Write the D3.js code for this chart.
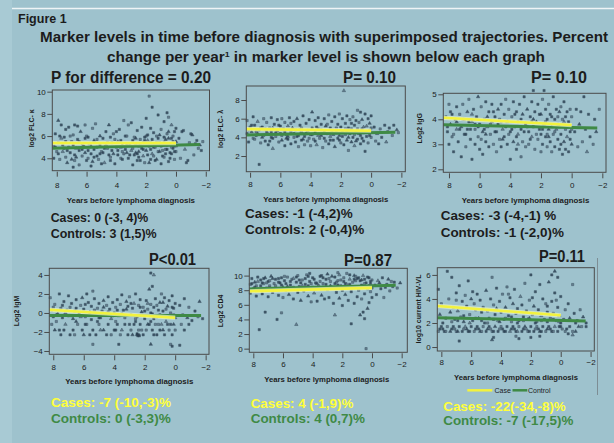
<!DOCTYPE html>
<html>
<head>
<meta charset="utf-8">
<script src="https://cdn.jsdelivr.net/npm/d3@7"></script>
<style>
  body { margin: 0; background: #9ec2cd; }
  svg { display: block; font-family: "Liberation Sans", Arial, sans-serif; }
</style>
</head>
<body>
<script>
// ---- data ----
const xTicks = [8, 6, 4, 2, 0, -2];

const pTitles = ["P for difference = 0.20", "P= 0.10", "P= 0.10", "P<0.01", "P=0.87", "P=0.11"];
const yLabels = ["log2 FLC- \u03ba", "log2 FLC- \u03bb", "Log2 IgG", "Log2 IgM", "Log2 CD4", "log10 current HIV-VL"];
const casesText = ["Cases: 0 (-3, 4)%", "Cases: -1 (-4,2)%", "Cases: -3 (-4,-1) %", "Cases: -7 (-10,-3)%", "Cases: 4 (-1,9)%", "Cases: -22(-34,-8)%"];
const controlsText = ["Controls: 3 (1,5)%", "Controls: 2 (-0,4)%", "Controls: -1 (-2,0)%", "Controls: 0 (-3,3)%", "Controls: 4 (0,7)%", "Controls: -7 (-17,5)%"];

const kappaTicks = [4, 6, 8, 10];
const lambdaTicks = [2, 4, 6, 8];
const iggTicks = [2, 3, 4, 5];
const igmTicks = [-4, -2, 0, 2, 4];
const cd4Ticks = [0, 2, 4, 6, 8, 10];
const vlTicks = [0, 2, 4, 6];

const kappaCase = [[8.3, 5.37], [0, 5.37]];
const kappaCtrl = [[8.3, 4.9], [-1.6, 5.25]];
const lambdaCase = [[8.25, 4.89], [0, 4.71]];
const lambdaCtrl = [[8.25, 4.25], [-1.6, 4.54]];
const iggCase = [[8.37, 4.06], [0, 3.77]];
const iggCtrl = [[8.37, 3.78], [-1.67, 3.65]];
const igmCase = [[8.26, 0.33], [0, -0.5]];
const igmCtrl = [[8.26, -0.27], [-1.7, -0.27]];
const cd4Case = [[8.27, 7.86], [0, 8.32]];
const cd4Ctrl = [[8.27, 8.18], [-1.6, 8.68]];
const vlCase = [[8.27, 3.42], [0, 2.64]];
const vlCtrl = [[8.27, 2.44], [-1.67, 2.17]];

const kappaPts = [[8.2,5.1],[8.2,4.0],[8.1,6.2],[8.0,4.6],[7.9,7.4],[7.9,5.4],[7.8,3.9],[7.8,6.0],[7.7,7.0],[7.6,4.6],[7.6,5.2],[7.5,5.9],[7.4,4.1],[7.4,6.6],[7.3,3.6],[7.2,5.0],[7.2,6.8],[7.1,4.5],[7.0,5.5],[7.0,3.9],
[6.9,3.2],[6.9,6.1],[6.8,7.0],[6.8,4.3],[6.7,4.9],[6.6,5.7],[6.6,6.9],[6.5,3.4],[6.5,4.7],[6.4,6.4],[6.3,4.2],[6.3,5.3],[6.2,5.1],[6.1,7.0],[6.1,4.5],[6.0,3.8],[6.0,6.0],
[5.9,4.7],[5.9,5.9],[5.8,5.3],[5.7,3.3],[5.7,4.4],[5.6,6.7],[5.5,4.1],[5.5,5.6],[5.4,7.1],[5.3,5.0],[5.3,4.2],[5.2,3.9],[5.1,6.0],[5.1,5.2],[5.0,4.6],[5.0,3.5],
[4.9,5.8],[4.8,3.6],[4.8,4.9],[4.7,6.4],[4.6,4.9],[4.6,5.4],[4.5,7.0],[4.4,4.1],[4.4,5.9],[4.3,5.4],[4.2,6.2],[4.2,4.4],[4.1,3.5],[4.0,5.0],[4.0,6.4],
[3.9,4.3],[3.9,5.5],[3.8,6.6],[3.7,5.6],[3.7,4.0],[3.6,3.9],[3.6,5.2],[3.5,7.4],[3.4,4.8],[3.4,6.0],[3.3,6.0],[3.3,4.5],[3.2,4.0],[3.2,7.0],[3.1,5.3],[3.0,7.2],[3.0,4.7],
[2.9,3.4],[2.9,5.6],[2.8,5.9],[2.8,4.3],[2.7,4.5],[2.7,5.2],[2.6,6.5],[2.6,3.8],[2.5,5.1],[2.5,4.6],[2.4,3.8],[2.4,5.7],[2.3,6.8],[2.3,4.9],[2.2,4.2],[2.2,5.4],[2.1,5.6],[2.1,3.6],[2.0,7.6],[2.0,4.7],[2.0,6.0],
[1.9,6.1],[1.9,4.3],[1.8,9.6],[1.8,3.6],[1.8,5.1],[1.7,5.4],[1.7,6.7],[1.6,8.6],[1.6,4.4],[1.5,6.3],[1.5,5.0],[1.4,5.0],[1.4,3.8],[1.3,3.9],[1.3,6.0],[1.2,7.9],[1.2,5.8],[1.2,4.6],[1.1,4.6],[1.1,5.4],[1.0,6.6],[1.0,3.5],[1.0,5.1],
[0.9,5.2],[0.9,4.2],[0.8,7.3],[0.8,4.1],[0.8,5.9],[0.7,5.7],[0.7,4.8],[0.6,8.1],[0.6,4.8],[0.6,6.2],[0.5,6.4],[0.5,3.7],[0.5,7.7],[0.4,5.3],[0.4,4.5],[0.3,7.0],[0.3,4.4],[0.3,5.8],[0.2,6.0],[0.2,4.9],[0.1,5.1],[0.1,3.9],[0.1,6.4],[0.0,6.7],[0.0,4.6],[0.0,5.5],
[-0.2,5.8],[-0.3,4.0],[-0.4,6.4],[-0.5,6.5],[-0.6,4.8],[-0.7,3.6],[-0.8,3.8],[-0.9,5.4],[-1.0,6.2],[-1.1,6.1],[-1.2,4.3],[-1.3,5.3],[-1.4,5.6],[-1.5,4.9],[-1.6,5.2],[-1.7,4.7],[-1.8,5.5],
[8.1,5.0],[7.9,4.4],[7.7,5.8],[7.5,4.9],[7.3,4.7],[7.1,6.0],[6.9,5.2],[6.7,4.1],[6.5,5.5],[6.3,4.8],[6.1,5.8],[5.9,4.0],[5.7,5.1],[5.5,4.8],[5.3,5.7],[5.1,4.4],[4.9,4.5],[4.7,5.2],[4.5,4.3],[4.3,4.7],
[4.1,5.7],[3.9,4.7],[3.7,5.0],[3.5,4.4],[3.3,5.3],[3.1,4.3],[2.9,4.9],[2.7,5.8],[2.5,4.1],[2.4,5.3],[2.2,4.8],[2.1,5.9],[1.9,5.6],[1.7,4.8],[1.6,5.7],[1.5,4.2],[1.3,5.4],[1.1,6.1],[0.9,4.7],[0.8,5.4],
[0.7,4.4],[0.6,5.2],[0.5,5.8],[0.4,4.0],[0.3,5.0],[0.2,5.5],[0.1,4.6],[0.0,5.1],[1.7,3.9],[2.6,4.4],[3.6,4.6],[4.4,3.8],[5.6,3.7],[6.8,3.8],[7.4,5.5]];

const lambdaPts = [[8.2,5.8],[8.2,4.4],[8.1,3.5],[8.0,5.1],[7.9,4.6],[7.8,6.2],[7.8,3.9],[7.7,5.3],[7.6,4.2],[7.5,5.7],[7.4,1.1],[7.4,4.8],[7.3,3.4],[7.2,5.1],[7.2,4.0],[7.1,6.0],[7.0,3.6],[7.0,4.9],
[6.9,5.6],[6.8,4.3],[6.8,3.2],[6.7,5.0],[6.6,6.1],[6.6,4.6],[6.5,2.8],[6.5,3.9],[6.4,5.4],[6.3,4.1],[6.2,5.9],[6.2,4.7],[6.1,3.5],[6.0,5.2],[6.0,4.4],
[5.9,6.0],[5.9,3.7],[5.8,4.9],[5.7,5.6],[5.7,3.1],[5.6,4.3],[5.5,5.2],[5.5,3.8],[5.4,6.1],[5.3,4.6],[5.3,3.3],[5.2,5.0],[5.1,4.0],[5.1,5.7],[5.0,3.5],[5.0,4.8],
[4.9,6.0],[4.8,4.2],[4.8,3.0],[4.7,5.3],[4.6,3.7],[4.6,4.6],[4.5,6.3],[4.4,4.1],[4.4,3.2],[4.3,5.5],[4.2,4.7],[4.2,3.6],[4.1,5.9],[4.0,4.3],[4.0,3.1],
[3.9,6.7],[3.9,5.0],[3.8,3.8],[3.7,4.5],[3.7,5.8],[3.6,3.2],[3.5,4.9],[3.5,6.1],[3.4,3.9],[3.3,5.4],[3.3,4.2],[3.2,2.9],[3.1,4.7],[3.1,6.0],[3.0,3.6],[3.0,5.2],
[2.9,4.4],[2.8,6.4],[2.8,3.3],[2.7,5.0],[2.7,4.1],[2.6,5.7],[2.5,3.7],[2.5,4.8],[2.4,6.2],[2.4,3.0],[2.3,4.5],[2.2,5.4],[2.2,3.9],[2.1,6.5],[2.1,4.2],[2.0,5.1],[2.0,3.4],
[1.9,4.7],[1.9,6.0],[1.8,9.0],[1.8,3.2],[1.7,5.5],[1.7,4.3],[1.6,6.3],[1.6,3.7],[1.5,2.6],[1.5,5.0],[1.4,4.4],[1.4,5.9],[1.3,3.5],[1.3,4.9],[1.2,6.2],[1.2,4.0],[1.1,5.3],[1.1,3.1],[1.0,4.6],[1.0,5.8],
[0.9,6.9],[0.9,3.8],[0.8,4.4],[0.8,5.6],[0.7,6.7],[0.7,3.3],[0.6,4.9],[0.6,5.9],[0.5,3.6],[0.5,4.5],[0.4,6.5],[0.4,2.5],[0.3,5.2],[0.3,4.1],[0.2,6.0],[0.2,3.4],[0.1,4.7],[0.1,5.5],[0.0,4.0],[0.0,6.3],
[-0.2,5.1],[-0.3,3.6],[-0.4,4.4],[-0.5,3.3],[-0.6,4.9],[-0.7,4.0],[-0.9,5.3],[-1.0,3.5],[-1.1,4.6],[-1.2,5.0],[-1.4,4.2],[-1.5,5.3],[-1.7,4.8],[-1.8,4.5],
[8.1,4.8],[7.9,5.3],[7.7,3.8],[7.5,4.4],[7.3,5.0],[7.1,4.2],[6.9,4.6],[6.7,3.6],[6.5,5.0],[6.3,4.5],[6.1,5.3],[5.9,4.2],[5.7,4.6],[5.5,4.1],[5.3,5.5],[5.1,4.4],[4.9,4.1],[4.7,4.8],[4.5,3.8],[4.3,4.4],
[4.1,3.9],[3.9,4.3],[3.7,3.6],[3.5,4.2],[3.3,4.8],[3.1,3.9],[2.9,5.4],[2.7,3.7],[2.5,4.3],[2.3,5.0],[2.1,3.7],[1.9,4.1],[1.7,4.9],[1.5,4.0],[1.3,5.5],[1.1,4.3],[0.9,4.9],[0.7,4.2],[0.5,5.1],[0.3,4.6],
[0.1,4.2],[0.0,5.0],[0.6,3.9],[1.0,3.6],[1.6,4.6],[2.6,4.5],[3.6,5.1],[4.6,5.0],[5.6,3.9],[6.6,4.0],[7.6,4.6]];

const iggPts = [[8.2,4.1],[8.1,3.5],[8.0,3.0],[8.0,4.6],[7.9,3.8],[7.8,4.2],[7.8,3.3],[7.7,2.7],[7.6,4.0],[7.5,3.6],[7.5,4.5],[7.4,3.1],[7.3,4.2],[7.2,2.5],[7.2,3.7],[7.1,4.6],[7.0,3.4],[7.0,4.0],
[6.9,2.9],[6.8,4.3],[6.8,3.6],[6.7,4.8],[6.6,3.2],[6.5,2.4],[6.5,3.9],[6.4,4.4],[6.3,3.0],[6.3,3.6],[6.2,4.1],[6.1,4.9],[6.1,3.3],[6.0,2.8],[6.0,3.8],
[5.9,4.5],[5.8,3.5],[5.8,2.6],[5.7,4.0],[5.6,4.7],[5.6,3.1],[5.5,3.7],[5.4,4.3],[5.4,2.9],[5.3,3.4],[5.2,4.6],[5.2,3.9],[5.1,3.0],[5.0,4.1],[5.0,3.5],
[4.9,2.7],[4.8,4.4],[4.8,3.8],[4.7,3.2],[4.6,4.6],[4.6,2.9],[4.5,3.6],[4.4,4.2],[4.4,3.3],[4.3,4.8],[4.2,3.0],[4.2,3.9],[4.1,4.4],[4.0,2.4],[4.0,3.5],
[3.9,4.1],[3.8,3.1],[3.8,4.7],[3.7,3.7],[3.6,2.8],[3.6,4.3],[3.5,3.4],[3.5,3.9],[3.4,4.6],[3.3,2.5],[3.3,3.6],[3.2,4.2],[3.2,3.1],[3.1,4.9],[3.0,3.8],[3.0,2.9],
[2.9,4.4],[2.8,3.5],[2.8,3.0],[2.7,4.1],[2.6,4.7],[2.6,3.3],[2.5,5.15],[2.5,3.7],[2.4,2.8],[2.4,4.3],[2.3,3.9],[2.2,3.2],[2.2,4.6],[2.1,3.6],[2.0,2.7],[2.0,4.2],[2.0,3.4],
[1.9,4.8],[1.9,3.0],[1.8,5.15],[1.8,3.8],[1.7,3.3],[1.7,4.4],[1.6,2.9],[1.6,4.0],[1.5,3.6],[1.5,4.6],[1.4,3.1],[1.4,4.2],[1.3,2.7],[1.3,3.7],[1.2,4.9],[1.2,3.4],[1.1,4.0],[1.1,2.9],[1.0,3.6],[1.0,4.4],
[0.9,3.2],[0.9,4.1],[0.8,2.8],[0.8,3.7],[0.7,4.5],[0.7,3.4],[0.6,2.6],[0.6,4.0],[0.5,3.1],[0.5,4.7],[0.4,3.6],[0.4,2.8],[0.3,4.3],[0.3,3.3],[0.2,3.9],[0.2,2.7],[0.1,4.4],[0.1,3.5],[0.0,3.0],[0.0,4.1],
[-0.2,3.5],[-0.3,4.4],[-0.4,2.9],[-0.5,3.8],[-0.6,4.3],[-0.7,3.1],[-0.8,4.9],[-0.9,3.6],[-1.0,2.7],[-1.1,4.2],[-1.2,3.3],[-1.4,3.0],[-1.5,4.0],[-1.6,3.5],[-1.8,4.4],
[8.1,3.7],[7.9,4.3],[7.7,3.4],[7.5,3.9],[7.3,3.6],[7.1,4.0],[6.9,3.4],[6.7,3.9],[6.5,4.2],[6.3,3.8],[6.1,3.7],[5.9,3.2],[5.7,3.6],[5.5,4.1],[5.3,3.8],[5.1,4.3],[4.9,3.5],[4.7,4.0],[4.5,3.2],[4.3,3.7],
[4.1,3.4],[3.9,3.6],[3.7,4.2],[3.5,3.0],[3.3,4.0],[3.1,3.5],[2.9,3.7],[2.7,3.2],[2.5,4.0],[2.3,3.4],[2.1,4.2],[1.9,3.6],[1.7,3.9],[1.5,3.3],[1.3,4.1],[1.1,3.5],[0.9,3.8],[0.7,3.0],[0.5,3.9],[0.3,3.7],
[0.1,3.2],[0.0,3.6],[0.4,4.1],[0.8,4.3],[1.6,3.4],[2.6,3.9],[3.6,3.3],[4.6,3.9],[5.6,3.4],[6.6,3.6]];

const igmPts = [[8.2,1.6],[8.1,0.3],[8.0,-0.4],[7.9,0.9],[7.8,-0.2],[7.6,2.0],[7.5,0.5],[7.4,-0.5],[7.3,1.2],[7.2,0.0],[7.0,1.8],[7.0,-0.3],[6.9,0.6],[6.8,1.0],[6.7,-0.6],[6.6,0.2],[6.5,1.4],[6.3,-0.1],[6.2,0.8],[6.1,1.6],
[6.0,0.4],[5.9,-0.4],[5.8,2.0],[5.7,1.1],[5.6,0.1],[5.5,-0.7],[5.5,0.7],[5.4,2.3],[5.3,1.5],[5.2,-0.2],[5.1,0.5],[5.0,1.0],[4.9,-0.5],[4.8,0.2],[4.7,1.3],[4.6,-0.1],[4.5,0.8],[4.4,1.7],[4.3,0.4],[4.2,-0.6],
[4.1,1.1],[4.0,0.0],[3.9,0.6],[3.8,1.4],[3.7,-0.3],[3.6,0.9],[3.5,1.9],[3.4,0.3],[3.3,-0.5],[3.2,1.2],[3.1,0.7],[3.0,1.7],[2.9,-0.2],[2.8,0.5],[2.7,1.0],[2.6,2.0],[2.5,-0.4],[2.4,0.8],[2.3,1.4],[2.2,0.1],
[2.1,0.6],[2.0,-0.6],[1.9,1.3],[1.8,0.4],[1.7,2.5],[1.6,4.2],[1.6,0.9],[1.5,2.8],[1.5,-0.1],[1.4,4.0],[1.4,0.6],[1.3,1.5],[1.2,-0.4],[1.1,0.3],[1.0,1.1],[0.9,2.0],[0.8,0.2],[0.7,1.6],[0.6,-0.3],[0.5,0.7],
[0.4,1.3],[0.3,0.0],[0.2,1.8],[0.1,0.5],[0.0,-0.5],[0.0,1.0],[-0.3,0.8],[-0.5,-0.2],[-0.6,1.5],[-0.8,-0.5],[-0.9,0.6],[-1.1,-0.8],[-1.3,0.2],[-1.5,-0.4],[-1.6,1.2],[-1.8,-0.6],
[8.1,-1.2],[7.6,-1.8],[7.5,-2.3],[7.2,-1.2],[6.9,-2.3],[6.7,-1.8],[6.4,-1.2],[6.1,-1.8],[6.0,-2.3],[5.8,-1.2],[5.4,-1.8],[5.2,-2.3],[5.0,-1.2],[4.7,-1.8],[4.4,-1.2],[4.2,-2.3],[4.0,-1.8],[3.8,-1.2],[3.5,-1.8],[3.3,-1.2],
[3.1,-2.3],[2.9,-1.8],[2.7,-1.2],[2.5,-2.3],[2.4,-1.8],[2.3,-1.2],[2.1,-2.3],[1.9,-1.8],[1.8,-1.2],[1.5,-1.8],[1.3,-1.2],[1.2,-2.3],[1.0,-1.8],[0.9,-1.2],[0.7,-2.3],[0.5,-1.2],[0.4,-1.8],[0.2,-2.3],[0.1,-1.2],[-0.4,-1.2],
[-0.6,-1.8],[-0.9,-1.2],[7.8,-0.9],[6.5,-0.9],[5.1,-0.9],[3.9,-0.9],[2.6,-0.9],[1.6,-0.9],[0.6,-0.9],[2.45,-2.4],[2.35,-2.4],
[5.4,-3.3],[3.7,-3.3],[1.6,-3.3],[0.3,-3.3],[0.2,-3.5],[-0.3,-3.4],
[8.0,0.6],[7.7,-0.1],[7.4,0.8],[7.1,0.3],[6.8,-0.3],[6.5,0.5],[6.2,-0.4],[5.9,0.9],[5.6,-0.2],[5.3,0.3],[5.0,-0.5],[4.7,0.6],[4.4,0.1],[4.1,-0.3],[3.8,0.3],[3.5,-0.1],[3.2,0.4],[2.9,1.0],[2.6,-0.6],[2.3,0.6],
[2.0,0.2],[1.8,1.0],[1.6,0.0],[1.4,-0.6],[1.2,0.8],[1.0,-0.2],[0.8,1.1],[0.6,0.4],[0.4,-0.4],[0.2,0.6],[0.1,-0.2],
[7.9,-1.8],[7.3,-1.8],[6.6,-2.3],[5.9,-1.2],[5.6,-2.3],[4.9,-1.8],[4.5,-2.3],[3.9,-1.8],[3.6,-2.3],[3.0,-1.2],[2.8,-2.3],[2.2,-1.8],[1.7,-1.2],[1.4,-2.3],[1.1,-1.2],[0.8,-1.8],[0.3,-1.2],[0.0,-1.8],[2.5,-2.2],[2.4,-2.3]];

const cd4Pts = [[8.2,8.8],[8.2,7.6],[8.1,9.6],[8.0,8.2],[7.9,9.1],[7.8,7.2],[7.8,8.6],[7.7,9.8],[7.6,2.6],[7.6,8.0],[7.5,9.4],[7.4,7.5],[7.3,8.9],[7.2,5.0],[7.2,9.7],[7.1,8.3],[7.0,7.1],[7.0,9.2],
[6.9,8.6],[6.8,9.9],[6.7,7.7],[6.6,8.9],[6.5,9.5],[6.4,4.0],[6.4,8.1],[6.3,7.3],[6.2,9.0],[6.1,4.9],[6.1,9.7],[6.0,8.4],[6.0,7.0],
[5.9,9.3],[5.8,8.0],[5.7,9.8],[5.6,7.4],[5.5,8.7],[5.4,9.5],[5.3,6.8],[5.2,8.2],[5.1,3.3],[5.1,9.1],[5.0,7.7],[5.0,10.0],
[4.9,8.5],[4.8,6.6],[4.7,9.4],[4.6,7.9],[4.5,8.8],[4.4,10.1],[4.3,7.2],[4.2,9.2],[4.1,6.4],[4.0,8.4],[4.0,9.7],
[3.9,7.6],[3.8,9.0],[3.7,6.5],[3.6,8.6],[3.5,9.9],[3.4,7.3],[3.3,8.9],[3.2,6.8],[3.1,9.5],[3.0,8.1],[3.0,10.2],
[2.9,7.0],[2.8,9.2],[2.7,8.4],[2.6,6.2],[2.5,4.6],[2.5,9.8],[2.4,7.7],[2.3,10.4],[2.3,8.7],[2.2,6.9],[2.1,9.4],[2.0,8.0],[2.0,5.9],
[1.9,9.7],[1.8,7.4],[1.8,8.9],[1.7,10.3],[1.6,6.6],[1.6,8.3],[1.5,9.5],[1.4,3.4],[1.4,7.8],[1.3,9.1],[1.2,6.2],[1.2,10.0],[1.1,8.5],[1.0,7.1],[1.0,9.6],
[0.9,8.0],[0.8,4.6],[0.8,9.3],[0.7,6.8],[0.7,8.7],[0.6,5.0],[0.6,10.0],[0.5,4.1],[0.5,7.5],[0.4,0.0],[0.4,9.0],[0.3,5.5],[0.3,8.2],[0.2,6.3],[0.2,9.7],[0.1,7.8],[0.1,8.9],[0.0,7.0],[0.0,9.4],
[-0.2,8.7],[-0.3,7.4],[-0.4,9.3],[-0.6,8.2],[-0.7,9.7],[-0.8,7.0],[-1.0,8.8],[-1.1,9.5],[-1.2,7.9],[-1.4,8.5],[-1.5,9.1],[-1.7,8.3],[-1.9,9.0],
[7.4,9.0],[6.9,9.3],[6.3,9.6],[5.8,8.9],[5.3,9.6],[4.8,9.0],[4.3,8.6],[3.8,8.2],[3.3,9.7],[2.8,8.6],[2.4,9.1],[1.9,8.4],[1.5,8.8],[1.1,9.9],[0.8,8.4],[0.5,9.5],[0.2,8.6],
[8.1,8.9],[7.9,8.4],[7.7,9.2],[7.5,8.6],[7.3,9.6],[7.1,9.0],[6.9,8.3],[6.7,9.6],[6.5,8.6],[6.3,9.1],[6.1,8.7],[5.9,9.9],[5.7,8.5],[5.5,9.2],[5.3,8.4],[5.1,9.8],[4.9,9.4],[4.7,8.6],[4.5,9.6],[4.3,9.9],
[4.1,8.9],[3.9,9.5],[3.7,8.9],[3.5,9.2],[3.3,8.4],[3.1,8.8],[2.9,9.6],[2.7,9.9],[2.5,8.9],[2.3,9.3],[2.1,8.6],[1.9,9.2],[1.7,8.8],[1.5,10.1],[1.3,8.4],[1.1,9.3],[0.9,9.7],[0.7,9.4],[0.5,8.9],[0.3,9.8],
[0.1,9.2],[0.0,8.3],[-0.5,9.0],[-0.9,8.4],[-1.3,9.2],[4.2,10.3],[3.4,10.0],[2.2,10.1],[1.2,9.5]];

const vlPts = [[8.2,1.3],[8.0,1.7],[7.8,1.3],[7.6,1.7],[7.4,1.3],[7.2,1.7],[7.0,1.3],[6.8,1.7],[6.6,1.3],[6.4,1.7],[6.2,1.3],[6.0,1.7],[5.8,1.3],[5.6,1.7],[5.4,1.3],[5.2,1.7],[5.0,1.3],[4.8,1.7],[4.6,1.3],[4.4,1.7],
[4.2,1.3],[4.0,1.7],[3.8,1.3],[3.6,1.7],[3.4,1.3],[3.2,1.7],[3.0,1.3],[2.8,1.7],[2.6,1.3],[2.4,1.7],[2.2,1.3],[2.0,1.7],[1.8,1.3],[1.6,1.7],[1.4,1.3],[1.2,1.7],[1.0,1.3],[0.8,1.7],[0.6,1.3],[0.4,1.7],
[0.2,1.3],[0.0,1.7],[-0.3,1.3],[-0.6,1.7],[-1.0,1.3],[-1.4,1.7],[-1.7,1.7],[7.9,1.5],[7.1,1.5],[6.3,1.5],[5.5,1.5],[4.7,1.5],[3.9,1.5],[3.1,1.5],[2.3,1.5],[1.5,1.5],[0.7,1.5],[-0.1,1.5],
[8.2,4.8],[8.1,2.7],[8.0,3.6],[7.9,2.0],[7.6,6.3],[7.5,4.0],[7.4,2.9],[7.3,5.8],[7.2,3.3],[7.1,2.3],[7.0,4.5],[6.9,3.0],[6.8,0.5],[6.8,5.1],[6.7,2.5],[6.6,3.8],[6.5,2.1],[6.4,4.3],[6.3,3.4],[6.2,5.5],
[6.1,2.7],[6.0,4.0],[5.9,2.2],[5.8,3.6],[5.7,3.1],[5.6,4.4],[5.5,2.4],[5.4,3.9],[5.3,2.9],[5.2,3.3],[5.1,2.0],[5.0,4.7],[4.9,3.0],[4.8,2.4],[4.7,4.0],[4.6,5.8],[4.6,0.6],[4.5,0.8],[4.5,3.5],[4.4,2.7],
[4.3,4.9],[4.2,2.2],[4.1,3.8],[4.0,2.9],[3.9,4.4],[3.8,2.3],[3.7,3.3],[3.6,5.0],[3.5,2.6],[3.4,4.1],[3.3,2.1],[3.2,3.6],[3.1,4.8],[3.0,2.8],[2.9,3.2],[2.8,2.2],[2.7,4.2],[2.6,3.5],[2.5,2.5],[2.4,5.3],
[2.3,3.0],[2.2,2.3],[2.1,3.9],[2.0,6.0],[2.0,0.8],[1.9,2.7],[1.8,3.4],[1.7,4.6],[1.6,2.1],[1.5,3.1],[1.4,5.2],[1.3,2.6],[1.2,4.0],[1.1,2.3],[1.0,3.6],[0.9,2.9],[0.8,5.4],[0.7,2.4],[0.6,6.0],[0.6,3.8],
[0.5,2.8],[0.4,6.3],[0.4,4.5],[0.3,2.2],[0.2,5.8],[0.2,3.3],[0.1,2.6],[0.0,4.2],[0.0,2.0],[-0.3,3.1],[-0.5,3.6],[-0.6,2.4],[-0.8,5.2],[-0.9,2.8],[-1.1,2.2],[-1.3,3.1],[-1.5,2.5],[-1.7,2.0],
[3.0,0.9],[2.8,0.7],[1.4,0.9],[-0.8,1.0],[-0.5,1.1],
[8.1,1.5],[7.7,1.3],[7.3,1.5],[6.9,1.3],[6.5,1.5],[6.1,1.3],[5.7,1.5],[5.3,1.3],[4.9,1.5],[4.5,1.3],[4.1,1.5],[3.7,1.3],[3.3,1.5],[2.9,1.3],[2.5,1.5],[2.1,1.3],[1.7,1.5],[1.3,1.3],[0.9,1.5],[0.5,1.3],
[0.1,1.7],[-0.4,1.5],[-0.8,1.3],[-1.2,1.7],
[7.7,2.4],[7.3,2.1],[6.9,2.2],[6.5,2.6],[6.1,2.0],[5.7,2.4],[5.3,2.2],[4.9,2.0],[4.5,2.3],[4.1,2.1],[3.7,2.4],[3.3,2.5],[2.9,2.0],[2.5,2.2],[2.1,2.4],[1.7,2.0],[1.3,2.2],[0.9,2.1],[0.5,2.3],[0.1,2.1],
[-0.2,2.3],[-1.0,2.0],[7.0,3.9],[5.9,4.6],[4.3,3.2],[3.5,4.4],[1.9,4.1],[0.9,3.4],[0.3,3.9]];

// ---- layout (pixel positions of each panel) ----
const layout = [
  { box: [52.3, 90, 209.5, 170.7], xd: [8.3, -2.25], yd: [2.88, 10.15], title: [51, 211, 83.3], ylab: [31.7, 128.3], xt: [66.7, 195, 202.5], cs: [50.7, 148.3, 222], ct: [50.7, 156.7, 238], tb: 188, colored: false },
  { box: [246.3, 86, 405.3, 171.7], xd: [8.25, -2.26], yd: [0.32, 9.5], title: [343, 396, 83.3], ylab: [220, 129], xt: [263.3, 388.3, 201.7], cs: [245, 352.7, 217.5], ct: [245, 364.3, 234.3], tb: 187, colored: false },
  { box: [443.3, 93.3, 606, 172.3], xd: [8.37, -2.24], yd: [1.88, 5.04], title: [531, 587, 83.3], ylab: [419, 128.3], xt: [461.7, 589.3, 203], cs: [440.7, 556.3, 219.7], ct: [440.7, 564, 236.7], tb: 188.3, colored: false },
  { box: [49.3, 268.3, 209, 354.3], xd: [8.26, -2.22], yd: [-4.35, 4.7], title: [149, 196, 265], ylab: [16.7, 311], xt: [65.3, 193.3, 384.3], cs: [51, 171, 406.7], ct: [51, 170.7, 423.3], tb: 370, colored: true },
  { box: [249.3, 268.3, 407.3, 352.3], xd: [8.27, -2.38], yd: [-0.5, 11.0], title: [344, 392, 265.7], ylab: [220, 311], xt: [264.3, 389.3, 382.3], cs: [250.7, 353.3, 407.7], ct: [250.7, 365, 423.3], tb: 367, colored: true },
  { box: [437.3, 267.7, 594.3, 351], xd: [8.27, -2.25], yd: [-0.33, 6.6], title: [539, 585, 262.3], ylab: [418.3, 309], xt: [454, 578, 380.3], cs: [443.3, 565.7, 410.7], ct: [443.3, 573.3, 425], tb: 365, colored: true }
];

const series = [
  { pts: kappaPts, ticks: kappaTicks, cas: kappaCase, ctl: kappaCtrl },
  { pts: lambdaPts, ticks: lambdaTicks, cas: lambdaCase, ctl: lambdaCtrl },
  { pts: iggPts, ticks: iggTicks, cas: iggCase, ctl: iggCtrl },
  { pts: igmPts, ticks: igmTicks, cas: igmCase, ctl: igmCtrl },
  { pts: cd4Pts, ticks: cd4Ticks, cas: cd4Case, ctl: cd4Ctrl },
  { pts: vlPts, ticks: vlTicks, cas: vlCase, ctl: vlCtrl }
];

const W = 614, H = 443;
const yellow = '#f2f23e', green = '#3f8a45', ink = '#1c1c1c', dotInk = '#2c4153';

const svg = d3.select('body').append('svg')
  .attr('width', W)
  .attr('height', H);

svg.append('rect').attr('width', W).attr('height', H).attr('fill', '#9ec2cd');
svg.append('rect').attr('width', 12).attr('height', H).attr('fill', '#a8cad4');
svg.append('line').attr('x1', 12).attr('x2', W).attr('y1', 8.5).attr('y2', 8.5)
  .attr('stroke', '#eef4f6').attr('stroke-width', 1.5);
svg.append('line').attr('x1', 597.5).attr('x2', 597.5).attr('y1', 258).attr('y2', 395)
  .attr('stroke', '#7d8d94').attr('stroke-width', 1);

// headings
svg.append('text').attr('x', 18).attr('y', 23.3)
  .attr('font-size', 12.5).attr('font-weight', 'bold').attr('fill', ink)
  .text('Figure 1');
svg.append('text').attr('x', 40).attr('y', 41.7)
  .attr('font-size', 14).attr('font-weight', 'bold').attr('fill', ink)
  .attr('textLength', 568).attr('lengthAdjust', 'spacingAndGlyphs')
  .text('Marker levels in time before diagnosis with superimposed trajectories. Percent');
const t2 = svg.append('text').attr('x', 107).attr('y', 61.7)
  .attr('font-size', 14).attr('font-weight', 'bold').attr('fill', ink)
  .attr('textLength', 438).attr('lengthAdjust', 'spacingAndGlyphs');
t2.append('tspan').text('change per year');
t2.append('tspan').attr('font-size', 8).attr('dy', -5).text('1');
t2.append('tspan').attr('dy', 5).text(' in marker level is shown below each graph');

function fitText(g, x1, x2, y, str, size, weight, fill) {
  return g.append('text')
    .attr('x', x1).attr('y', y)
    .attr('font-size', size).attr('font-weight', weight).attr('fill', fill)
    .attr('textLength', x2 - x1).attr('lengthAdjust', 'spacingAndGlyphs')
    .text(str);
}

const sq = d3.symbol().type(d3.symbolSquare).size(5)();
const tri = d3.symbol().type(d3.symbolTriangle).size(5)();

series.forEach((s, i) => {
  const L = layout[i];
  const [x0, y0, x1, y1] = L.box;
  const x = d3.scaleLinear().domain(L.xd).range([x0, x1]);
  const y = d3.scaleLinear().domain(L.yd).range([y1, y0]);
  const g = svg.append('g');

  // points
  g.append('g').selectAll('path').data(s.pts).join('path')
    .attr('transform', d => `translate(${x(d[0])},${y(d[1])})`)
    .attr('d', (d, k) => k % 5 === 4 ? tri : sq)
    .attr('fill', (d, k) => k % 3 === 0 ? '#5d7484' : dotInk)
    .attr('stroke', dotInk)
    .attr('stroke-width', 0.5)
    .attr('opacity', 0.85);

  // trajectories
  const line = d3.line().x(d => x(d[0])).y(d => y(d[1]));
  g.append('path').attr('d', line(s.ctl)).attr('fill', 'none')
    .attr('stroke', green).attr('stroke-width', 3);
  g.append('path').attr('d', line(s.cas)).attr('fill', 'none')
    .attr('stroke', '#eef6c8').attr('stroke-width', 4.2).attr('opacity', 0.7);
  g.append('path').attr('d', line(s.cas)).attr('fill', 'none')
    .attr('stroke', yellow).attr('stroke-width', 2.6);

  // frame
  g.append('rect').attr('x', x0).attr('y', y0).attr('width', x1 - x0).attr('height', y1 - y0)
    .attr('fill', 'none').attr('stroke', '#4a4a4a').attr('stroke-width', 1);

  // x axis
  const xa = g.append('g').attr('transform', `translate(0,${y1})`)
    .call(d3.axisBottom(x).tickValues(xTicks).tickSize(5).tickSizeOuter(0).tickFormat(d3.format('d')));
  xa.select('.domain').remove();
  xa.selectAll('line').attr('stroke', '#4a4a4a').attr('transform', 'translate(0,1)');
  xa.selectAll('text').attr('y', null).attr('dy', null)
    .attr('transform', `translate(0,${L.tb - y1})`)
    .attr('font-size', 8).attr('fill', ink).attr('font-family', null);

  // y axis
  const ya = g.append('g').attr('transform', `translate(${x0},0)`)
    .call(d3.axisLeft(y).tickValues(s.ticks).tickSize(5).tickSizeOuter(0).tickFormat(d3.format('d')));
  ya.select('.domain').remove();
  ya.selectAll('line').attr('stroke', '#4a4a4a');
  ya.selectAll('text').attr('x', -6.5).attr('font-size', 8).attr('fill', ink).attr('font-family', null);

  // labels
  fitText(g, L.title[0], L.title[1], L.title[2], pTitles[i], 16, 'bold', ink);
  fitText(g, L.xt[0], L.xt[1], L.xt[2], 'Years before lymphoma diagnosis', 8, 'bold', ink);
  g.append('text')
    .attr('transform', `translate(${L.ylab[0] + 2.5},${L.ylab[1]}) rotate(-90)`)
    .attr('text-anchor', 'middle')
    .attr('font-size', 7).attr('font-weight', 'bold').attr('fill', ink)
    .text(yLabels[i]);
  fitText(g, L.cs[0], L.cs[1], L.cs[2], casesText[i], 13, 'bold', L.colored ? '#ffff3a' : ink);
  fitText(g, L.ct[0], L.ct[1], L.ct[2], controlsText[i], 13, 'bold', L.colored ? green : ink);
});

// legend under the last panel
const lg = svg.append('g');
lg.append('line').attr('x1', 467.3).attr('x2', 492.3).attr('y1', 390.3).attr('y2', 390.3)
  .attr('stroke', yellow).attr('stroke-width', 2.5);
lg.append('text').attr('x', 494.5).attr('y', 392.8).attr('font-size', 7).attr('fill', ink).text('Case');
lg.append('line').attr('x1', 512.5).attr('x2', 527.3).attr('y1', 390.3).attr('y2', 390.3)
  .attr('stroke', green).attr('stroke-width', 2.5);
lg.append('text').attr('x', 528).attr('y', 392.8).attr('font-size', 7).attr('fill', ink).text('Control');
</script>
</body>
</html>
